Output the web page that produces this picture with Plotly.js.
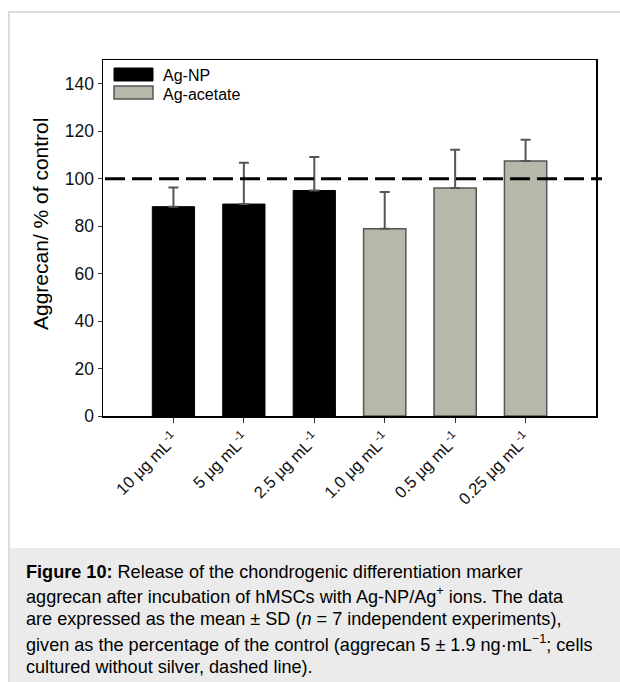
<!DOCTYPE html>
<html>
<head>
<meta charset="utf-8">
<script src="https://cdn.plot.ly/plotly-3.0.1.min.js"></script>
<style>html,body{margin:0;padding:0;background:#fff;}#chart{width:620px;height:682px;}</style>
</head>
<body>
<div id="chart"></div>
<script>
// ---- data ----
var categories = ["10 μg mL", "5 μg mL", "2.5 μg mL", "1.0 μg mL", "0.5 μg mL", "0.25 μg mL"];
var unitSup = "-1";
var npCategories = ["10 μg mL", "5 μg mL", "2.5 μg mL"];
var npMeans = [88.2, 89.3, 95.0];
var npSD = [8.1, 17.4, 14.1];
var acCategories = ["1.0 μg mL", "0.5 μg mL", "0.25 μg mL"];
var acMeans = [78.9, 96.1, 107.4];
var acSD = [15.5, 16.1, 9.0];
var seriesNames = ["Ag-NP", "Ag-acetate"];
var controlLevel = 100;
var yTicks = [0, 20, 40, 60, 80, 100, 120, 140];
var yAxisTitle = "Aggrecan/ % of control";
var captionLines = [
  "<b>Figure 10:</b> Release of the chondrogenic differentiation marker",
  "aggrecan after incubation of hMSCs with Ag-NP/Ag<sup>+</sup> ions. The data",
  "are expressed as the mean ± SD (<i>n</i> = 7 independent experiments),",
  "given as the percentage of the control (aggrecan 5 ± 1.9 ng·mL<sup>−1</sup>; cells",
  "cultured without silver, dashed line)."
];

// ---- layout helpers (pixel -> paper) ----
var W = 620, H = 682;
var L = 103, R = 596, T = 60, B = 416;
function X(px) { return (px - L) / (R - L); }
function Y(py) { return (B - py) / (B - T); }

var font = "Liberation Sans, Arial, Helvetica, sans-serif";
var npColor = "#000000", acColor = "#b8b8aa";

var traces = [
  {
    type: "bar", name: seriesNames[0], x: npCategories, y: npMeans, width: 0.6,
    marker: {color: npColor, line: {color: "#000", width: 1}},
    error_y: {type: "data", array: npSD, symmetric: false, arrayminus: npSD.map(function(){return 0;}),
              color: "#555", thickness: 2, width: 5},
    showlegend: false, hoverinfo: "x+y"
  },
  {
    type: "bar", name: seriesNames[1], x: acCategories, y: acMeans, width: 0.6,
    marker: {color: acColor, line: {color: "#555", width: 1.5}},
    error_y: {type: "data", array: acSD, symmetric: false, arrayminus: acSD.map(function(){return 0;}),
              color: "#555", thickness: 2, width: 5},
    showlegend: false, hoverinfo: "x+y"
  }
];

var shapes = [
  {type: "rect", xref: "paper", yref: "paper", x0: X(9), x1: X(640), y0: Y(700), y1: Y(12),
   line: {color: "#dddddd", width: 2}, fillcolor: "rgba(0,0,0,0)", layer: "below"},
  {type: "rect", xref: "paper", yref: "paper", x0: X(10), x1: X(640), y0: Y(700), y1: Y(548),
   line: {width: 0}, fillcolor: "#ebebeb", layer: "below"},
  {type: "line", xref: "paper", yref: "y", x0: X(105), x1: X(602), y0: controlLevel, y1: controlLevel,
   line: {color: "#000", width: 3, dash: "20px,7px"}},
  {type: "rect", xref: "paper", yref: "paper", x0: X(114), x1: X(153), y0: Y(81), y1: Y(68),
   fillcolor: npColor, line: {color: "#000", width: 1}},
  {type: "rect", xref: "paper", yref: "paper", x0: X(114), x1: X(153), y0: Y(99), y1: Y(86),
   fillcolor: acColor, line: {color: "#555", width: 1.5}}
];

var annotations = [
  {xref: "paper", yref: "paper", x: X(161), y: Y(75), xanchor: "left", yanchor: "middle",
   text: seriesNames[0], showarrow: false, font: {family: font, size: 16, color: "#000"}},
  {xref: "paper", yref: "paper", x: X(161), y: Y(94), xanchor: "left", yanchor: "middle",
   text: seriesNames[1], showarrow: false, font: {family: font, size: 16, color: "#000"}},
  {xref: "paper", yref: "paper", x: X(40), y: Y(224), xanchor: "center", yanchor: "middle",
   text: yAxisTitle, textangle: -90, showarrow: false, font: {family: font, size: 21, color: "#000"}}
];
var capY = [571.7, 595.7, 619.3, 643, 666.7];
captionLines.forEach(function(t, i) {
  annotations.push({xref: "paper", yref: "paper", x: X(24), y: Y(capY[i]), xanchor: "left", yanchor: "middle",
    text: t, showarrow: false, align: "left", font: {family: font, size: 18.1, color: "#000"}});
});

var layout = {
  width: W, height: H,
  margin: {l: L, r: W - R, t: T, b: H - B, pad: 0},
  paper_bgcolor: "#fff", plot_bgcolor: "#fff",
  barmode: "overlay",
  showlegend: false,
  font: {family: font, color: "#111"},
  xaxis: {
    type: "category", categoryorder: "array", categoryarray: categories,
    range: [-1, 6], tickvals: categories,
    ticktext: categories.map(function(c){ return c + "<sup>" + unitSup + "</sup>"; }),
    tickangle: -45, ticks: "outside", ticklen: 5, tickwidth: 1, tickcolor: "#333",
    tickfont: {family: font, size: 16.5, color: "#111"},
    showline: true, linecolor: "#000", linewidth: 1.5, mirror: true,
    showgrid: false, zeroline: false, fixedrange: true, automargin: false
  },
  yaxis: {
    range: [0, 150], tickvals: yTicks, ticks: "outside", ticklen: 4, tickwidth: 1, tickcolor: "#333",
    tickfont: {family: font, size: 17.5, color: "#111"},
    showline: true, linecolor: "#000", linewidth: 1.5, mirror: true,
    showgrid: false, zeroline: false, fixedrange: true, automargin: false
  },
  shapes: shapes,
  annotations: annotations
};

Plotly.newPlot("chart", traces, layout, {displayModeBar: false, staticPlot: true});
</script>
</body>
</html>
